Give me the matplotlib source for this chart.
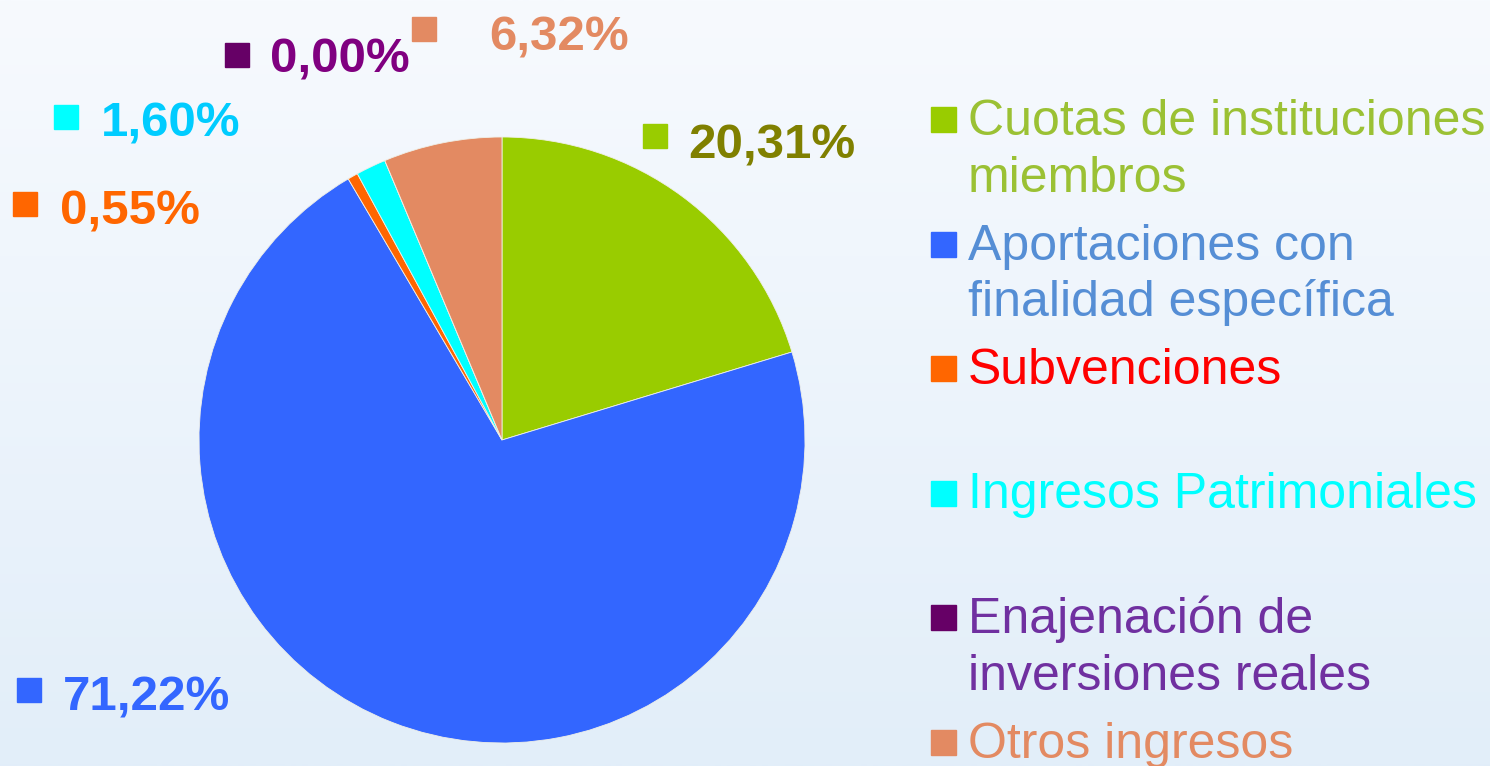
import numpy as np
import matplotlib.pyplot as plt
from matplotlib import font_manager
from matplotlib.patches import Rectangle

# data
categories = ['Cuotas de instituciones\nmiembros',
              'Aportaciones con\nfinalidad específica',
              'Subvenciones',
              'Ingresos Patrimoniales',
              'Enajenación de\ninversiones reales',
              'Otros ingresos']
values = [20.31, 71.22, 0.55, 1.60, 0.00, 6.32]
slice_colors = ['#99CC00', '#3366FF', '#FF6600', '#00FFFF', '#660066', '#E38A62']
value_colors = ['#808000', '#3366FF', '#FF6600', '#00CCFF', '#800080', '#E38A62']
legend_colors = ['#9BC134', '#558ED5', '#FF0000', '#00FFFF', '#7030A0', '#E38A62']

W, H = 1490, 766
plt.rcParams['font.family'] = ['Liberation Sans', 'DejaVu Sans']

# condensed bold for the percentages if the narrow face exists
names = {f.name for f in font_manager.fontManager.ttflist}
if 'Liberation Sans Narrow' in names:
    pct_font, pct_size = ['Liberation Sans Narrow', 'Liberation Sans'], 40
else:
    pct_font, pct_size = ['Liberation Sans', 'DejaVu Sans'], 35.5

fig = plt.figure(figsize=(W / 100, H / 100), dpi=100)

# background gradient
bg = fig.add_axes([0, 0, 1, 1])
grad = np.linspace(0, 1, 256)[:, None]
top = np.array([247, 250, 254]) / 255
bot = np.array([226, 238, 249]) / 255
img = top + (bot - top) * grad[..., None]
bg.imshow(img, aspect='auto', extent=[0, 1, 0, 1])
bg.set_xlim(0, 1)
bg.set_ylim(0, 1)
bg.axis('off')


def fx(x):
    return x / W


def fy(y):
    return 1 - y / H


# pie: centre (502, 440), radius 303 px
cx, cy, r = 502, 440, 303
ax = fig.add_axes([fx(cx - r), fy(cy + r), 2 * r / W, 2 * r / H])
ax.pie(values, colors=slice_colors, startangle=90, counterclock=False,
       radius=1, wedgeprops=dict(linewidth=0.6, edgecolor='#f0f0e8'))
ax.set_xlim(-1, 1)
ax.set_ylim(-1, 1)
ax.set_aspect('equal')
ax.axis('off')

# data labels: (square left, square top, text left, text baseline)
label_pos = [(643, 124, 688, 158),
             (17, 678, 63, 710),
             (13, 192, 60, 224),
             (54, 105, 101, 137),
             (225, 43, 270, 73),
             (412, 17, 489, 50)]


def square(x, y, s, color):
    fig.patches.append(Rectangle((fx(x), fy(y + s)), s / W, s / H,
                                 transform=fig.transFigure, color=color,
                                 zorder=5))


for v, col, tcol, (sx, sy, tx, ty) in zip(values, slice_colors, value_colors, label_pos):
    square(sx, sy, 24, col)
    txt = f'{v:.2f}'.replace('.', ',') + '%'
    fig.text(fx(tx), fy(ty), txt, color=tcol, fontsize=pct_size, fontweight='bold',
             family=pct_font, va='baseline', ha='left')

# legend
base0, step = 135, 124.5
for i, (lab, col, tcol) in enumerate(zip(categories, slice_colors, legend_colors)):
    b = base0 + i * step
    square(931, b - 28, 25, col)
    for j, line in enumerate(lab.split('\n')):
        fig.text(fx(968), fy(b + j * 57), line, color=tcol, fontsize=36,
                 va='baseline', ha='left')

fig.savefig('out.png', dpi=100)
